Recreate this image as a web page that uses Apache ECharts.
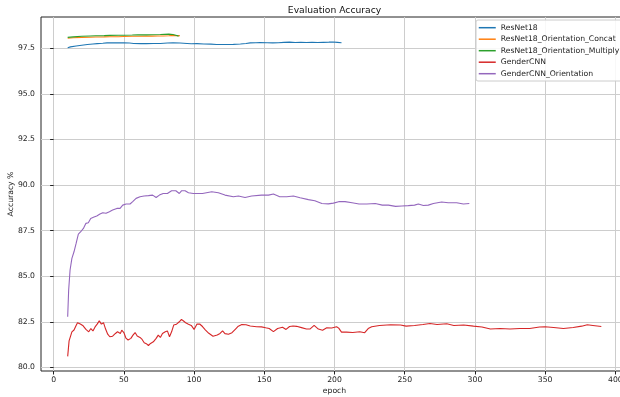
<!DOCTYPE html>
<html>
<head>
<meta charset="utf-8">
<script src="https://cdn.jsdelivr.net/npm/echarts@6/dist/echarts.min.js"></script>
<style>
html,body{margin:0;padding:0;background:#fff;}
#chart{width:620px;height:397px;}
</style>
</head>
<body>
<div id="chart"></div>
<script>
// ---- data ----
const seriesNames = ["ResNet18", "ResNet18_Orientation_Concat", "ResNet18_Orientation_Multiply", "GenderCNN", "GenderCNN_Orientation"];
const xTicks = [0, 50, 100, 150, 200, 250, 300, 350, 400];
const yTicks = [80, 82.5, 85, 87.5, 90, 92.5, 95, 97.5];

const resnetEpochs = [10, 12, 16, 20, 24, 28, 31, 35, 38, 42, 45, 50, 54, 57, 62, 66, 71, 76, 81, 85, 90, 95, 98, 102, 107, 112, 116, 120, 124, 128, 133, 137, 140, 144, 147, 152, 156, 160, 164, 168, 172, 176, 180, 184, 188, 192, 196, 199, 202, 205];
const resnetAcc = [97.53, 97.58, 97.63, 97.67, 97.71, 97.74, 97.76, 97.78, 97.8, 97.81, 97.8, 97.81, 97.79, 97.77, 97.76, 97.76, 97.77, 97.77, 97.79, 97.8, 97.79, 97.77, 97.75, 97.76, 97.74, 97.73, 97.71, 97.71, 97.71, 97.72, 97.74, 97.77, 97.8, 97.81, 97.82, 97.81, 97.8, 97.81, 97.83, 97.84, 97.82, 97.83, 97.82, 97.83, 97.82, 97.83, 97.84, 97.85, 97.83, 97.81];

const concatEpochs = [10, 14, 20, 26, 30, 36, 40, 46, 50, 56, 60, 66, 70, 74, 78, 82, 84, 88, 90];
const concatAcc = [98.05, 98.08, 98.1, 98.11, 98.12, 98.13, 98.14, 98.14, 98.15, 98.16, 98.16, 98.17, 98.17, 98.18, 98.18, 98.19, 98.2, 98.2, 98.19];

const multEpochs = [10, 14, 20, 26, 30, 36, 40, 46, 50, 56, 60, 66, 70, 76, 82, 85, 87, 89];
const multAcc = [98.1, 98.13, 98.16, 98.18, 98.19, 98.2, 98.21, 98.22, 98.22, 98.23, 98.24, 98.24, 98.25, 98.26, 98.28, 98.26, 98.22, 98.17];

const cnnEpochs = [10, 11, 13, 14.5, 16, 17, 19, 21, 23, 25, 26.5, 28, 29.5, 31, 32.5, 34, 35.5, 37, 38.5, 40, 42, 44, 45.5, 47.5, 48.5, 50, 51.5, 53, 55, 56.5, 58, 59.5, 61.5, 63, 64.5, 66, 67.5, 69, 71, 73, 74.5, 76, 77.5, 79.5, 81, 82.5, 84, 85.5, 87.5, 89.5, 91, 92.5, 94, 96, 98, 100, 102, 104, 106, 108, 110.5, 113.5, 116.5, 118.5, 120.3, 122, 124.5, 127, 129.5, 131.5, 134, 137, 140, 144.5, 148, 151, 153.5, 156.5, 159.5, 163, 165.5, 168, 170.5, 173, 176.5, 180, 182.5, 185.5, 188.5, 191.5, 194.5, 198, 201.5, 203, 205, 208.5, 213, 218, 221.5, 224, 226.5, 232, 240, 247, 251, 257, 263, 268, 273, 280, 285, 292, 299, 305, 311, 318, 325, 332, 339, 346, 350, 356, 363, 370, 376, 380, 384, 390];
const cnnAcc = [80.6, 81.45, 81.95, 82.05, 82.3, 82.45, 82.38, 82.28, 82.08, 81.95, 82.13, 82.0, 82.22, 82.37, 82.55, 82.37, 82.45, 82.1, 81.82, 81.68, 81.71, 81.86, 81.95, 81.86, 82.04, 81.91, 81.6, 81.5, 81.59, 81.77, 81.91, 81.72, 81.64, 81.53, 81.35, 81.3, 81.2, 81.31, 81.4, 81.59, 81.77, 81.64, 81.86, 81.95, 82.0, 81.68, 81.95, 82.32, 82.37, 82.5, 82.63, 82.54, 82.45, 82.37, 82.3, 82.08, 82.37, 82.38, 82.24, 82.06, 81.87, 81.71, 81.77, 81.86, 82.0, 81.85, 81.82, 81.9, 82.1, 82.26, 82.35, 82.34, 82.27, 82.23, 82.22, 82.17, 82.13, 81.96, 82.13, 82.2, 82.08, 82.24, 82.27, 82.25, 82.18, 82.1, 82.1, 82.3, 82.1, 82.04, 82.17, 82.16, 82.23, 82.15, 81.93, 81.93, 81.91, 81.95, 81.9, 82.13, 82.23, 82.3, 82.34, 82.32, 82.26, 82.3, 82.35, 82.41, 82.35, 82.39, 82.3, 82.32, 82.26, 82.21, 82.1, 82.13, 82.1, 82.13, 82.13, 82.21, 82.23, 82.19, 82.13, 82.19, 82.26, 82.34, 82.3, 82.24];

const cnnOriEpochs = [10, 10.7, 11.7, 13, 14.5, 16, 17.6, 19.3, 21.2, 23, 24.7, 26.4, 28.3, 30.7, 33, 35, 37.3, 39.7, 42, 45, 47.3, 49.2, 51.6, 54.4, 56.3, 58.7, 61.5, 64.4, 67.5, 70.5, 73, 75.3, 78, 81, 84, 87, 89.5, 91.2, 93.6, 96, 99.5, 103, 106, 112.6, 117.3, 122, 128, 131.6, 136.3, 141, 148, 153, 156.5, 161, 166, 170.7, 175.5, 181.4, 186, 191, 195.6, 199.2, 203, 207.5, 212.5, 217.5, 223, 229, 234, 238.4, 243.5, 248, 252.5, 257, 259.7, 263.3, 266.8, 270.4, 276.3, 281, 287, 291.8, 296];
const cnnOriAcc = [82.78, 84.24, 85.34, 85.98, 86.34, 86.8, 87.31, 87.44, 87.62, 87.9, 87.93, 88.17, 88.23, 88.3, 88.41, 88.48, 88.45, 88.54, 88.63, 88.72, 88.72, 88.9, 88.96, 88.96, 89.09, 89.27, 89.36, 89.4, 89.42, 89.45, 89.32, 89.45, 89.54, 89.54, 89.69, 89.69, 89.54, 89.69, 89.69, 89.58, 89.54, 89.54, 89.54, 89.63, 89.58, 89.45, 89.36, 89.4, 89.32, 89.4, 89.45, 89.45, 89.51, 89.36, 89.36, 89.4, 89.3, 89.2, 89.14, 88.99, 88.97, 89.01, 89.09, 89.09, 89.03, 88.96, 88.96, 88.99, 88.9, 88.9, 88.83, 88.85, 88.87, 88.9, 88.96, 88.88, 88.9, 88.99, 89.07, 89.03, 89.03, 88.96, 88.99];

const colors = ["#1f77b4", "#ff7f0e", "#2ca02c", "#d62728", "#9467bd"];

function pairs(xs, ys) { return xs.map((x, i) => [x, ys[i]]); }
const seriesData = [
  pairs(resnetEpochs, resnetAcc),
  pairs(concatEpochs, concatAcc),
  pairs(multEpochs, multAcc),
  pairs(cnnEpochs, cnnAcc),
  pairs(cnnOriEpochs, cnnOriAcc)
];

const FONT = "DejaVu Sans";
const chart = echarts.init(document.getElementById('chart'), null, {renderer: 'canvas'});
chart.setOption({
  animation: false,
  backgroundColor: '#ffffff',
  color: colors,
  textStyle: {fontFamily: FONT},
  title: {
    text: 'Evaluation Accuracy',
    left: 334.5, top: 6, padding: 0, textAlign: 'center',
    textStyle: {fontFamily: FONT, fontSize: 9.2, fontWeight: 'normal', color: '#111'}
  },
  grid: {
    left: 41, right: -8, top: 17, bottom: 26,
    outerBoundsMode: 'none',
    containLabel: false,
    show: true, borderColor: '#222', borderWidth: 1, backgroundColor: 'transparent'
  },
  legend: {
    orient: 'vertical',
    left: 476, top: 20,
    padding: [3.7, 8, 3.3, 2],
    itemWidth: 17, itemHeight: 8, itemGap: 3.5,
    backgroundColor: 'rgba(255,255,255,0.85)',
    borderColor: '#cccccc', borderWidth: 1, borderRadius: 2,
    itemStyle: {opacity: 0},
    lineStyle: {width: 1.5},
    textStyle: {fontFamily: FONT, fontSize: 7.7, color: '#222'},
    data: seriesNames
  },
  xAxis: {
    type: 'value', min: -9, max: 409,
    name: 'epoch', nameLocation: 'middle', nameGap: 16, nameMoveOverlap: false,
    nameTextStyle: {fontFamily: FONT, fontSize: 7.7, color: '#222'},
    axisLine: {show: false},
    axisTick: {show: true, inside: false, length: 3.5, lineStyle: {color: '#222', width: 1}, customValues: xTicks},
    axisLabel: {fontFamily: FONT, fontSize: 7.7, color: '#222', margin: 5, customValues: xTicks, formatter: v => String(v)},
    splitLine: {show: true, lineStyle: {color: '#cdcdcd', width: 1}}
  },
  yAxis: {
    type: 'value', min: 79.8, max: 99.22,
    name: 'Accuracy %', nameLocation: 'middle', nameGap: 26, nameRotate: 90, nameMoveOverlap: false,
    nameTextStyle: {fontFamily: FONT, fontSize: 7.7, color: '#222'},
    axisLine: {show: false},
    axisTick: {show: true, inside: false, length: 3.5, lineStyle: {color: '#222', width: 1}, customValues: yTicks},
    axisLabel: {fontFamily: FONT, fontSize: 7.7, color: '#222', margin: 6, customValues: yTicks, formatter: v => v.toFixed(1)},
    splitLine: {show: true, lineStyle: {color: '#cdcdcd', width: 1}}
  },
  series: seriesNames.map((name, i) => ({
    name: name,
    type: 'line',
    data: seriesData[i],
    symbol: 'none',
    smooth: false,
    lineStyle: {width: 1.1, color: colors[i]},
    itemStyle: {color: colors[i]},
    emphasis: {disabled: true}
  }))
});
</script>
</body>
</html>
